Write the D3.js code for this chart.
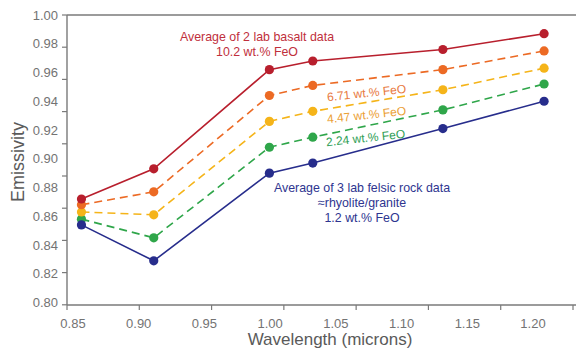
<!DOCTYPE html>
<html>
<head>
<meta charset="utf-8">
<script src="https://cdn.jsdelivr.net/npm/d3@7"></script>
<style>
  body { margin: 0; background: #fff; }
  svg text { font-family: "Liberation Sans", Arial, sans-serif; }
</style>
</head>
<body>
<div class="chart"></div>
<script>
  // wavelengths (microns) and emissivity per FeO content
  var wavelengths = [0.86, 0.91, 0.99, 1.02, 1.11, 1.18];
  var basalt = [0.872, 0.893, 0.962, 0.968, 0.976, 0.987];   // 10.2 wt.% FeO
  var feo671 = [0.868, 0.877, 0.944, 0.951, 0.962, 0.975];
  var feo447 = [0.863, 0.861, 0.926, 0.933, 0.948, 0.963];
  var feo224 = [0.858, 0.845, 0.908, 0.915, 0.934, 0.952];
  var felsic = [0.854, 0.829, 0.890, 0.897, 0.921, 0.940];   // 1.2 wt.% FeO

  var xTickValues = [0.85, 0.90, 0.95, 1.00, 1.05, 1.10, 1.15, 1.20];
  var yTickValues = [0.80, 0.82, 0.84, 0.86, 0.88, 0.90, 0.92, 0.94, 0.96, 0.98, 1.00];

  function emissivityChart() {
    var width = 576, height = 349;
    var svg = d3.select(".chart").append("svg")
      .attr("width", width)
      .attr("height", height);

    var plotLeft = 67, plotTop = 15, plotBottom = 305;

    // scale for the data and tick marks
    var x = d3.scaleLinear().domain([0.85, 1.20]).range([plotLeft, 573]);
    // tick labels in the original sit on a slightly compressed scale
    var xLabel = d3.scaleLinear().domain([0.85, 1.20]).range([73, 533]);

    var y = d3.scaleLinear().domain([0.80, 1.00]).range([302.5, plotTop]);
    var yTick = d3.scaleLinear().domain([0.80, 1.00]).range([337, plotTop]);

    var axisColor = "#7a7a7a";
    var labelColor = "#737373";

    // frame
    svg.append("line").attr("x1", plotLeft).attr("x2", width).attr("y1", plotTop).attr("y2", plotTop)
      .attr("stroke", axisColor).attr("stroke-width", 1.6);
    svg.append("line").attr("x1", plotLeft).attr("x2", plotLeft).attr("y1", plotTop).attr("y2", plotBottom)
      .attr("stroke", axisColor).attr("stroke-width", 1.4);
    svg.append("line").attr("x1", plotLeft).attr("x2", width).attr("y1", plotBottom).attr("y2", plotBottom)
      .attr("stroke", axisColor).attr("stroke-width", 1.4);

    // x ticks
    svg.append("g").selectAll("line")
      .data(xTickValues)
      .enter().append("line")
      .attr("x1", function(d) { return x(d); })
      .attr("x2", function(d) { return x(d); })
      .attr("y1", plotBottom)
      .attr("y2", plotBottom + 5)
      .attr("stroke", axisColor)
      .attr("stroke-width", 1.2);

    svg.append("g").selectAll("text")
      .data(xTickValues)
      .enter().append("text")
      .attr("x", function(d) { return xLabel(d); })
      .attr("y", 328)
      .attr("text-anchor", "middle")
      .attr("fill", labelColor)
      .style("font-size", "13px")
      .text(function(d) { return d3.format(".2f")(d); });

    // y ticks
    svg.append("g").selectAll("line")
      .data(yTickValues.slice(1))
      .enter().append("line")
      .attr("x1", plotLeft - 5)
      .attr("x2", plotLeft)
      .attr("y1", function(d) { return yTick(d); })
      .attr("y2", function(d) { return yTick(d); })
      .attr("stroke", axisColor)
      .attr("stroke-width", 1.2);

    svg.append("g").selectAll("text")
      .data(yTickValues)
      .enter().append("text")
      .attr("x", 58)
      .attr("y", function(d) { return y(d); })
      .attr("dy", "0.35em")
      .attr("text-anchor", "end")
      .attr("fill", labelColor)
      .style("font-size", "13px")
      .text(function(d) { return d3.format(".2f")(d); });

    // axis titles
    svg.append("text")
      .attr("transform", "translate(24,162) rotate(-90)")
      .attr("text-anchor", "middle")
      .attr("fill", "#5a5a5a")
      .style("font-size", "18px")
      .text("Emissivity");

    svg.append("text")
      .attr("x", 330)
      .attr("y", 345)
      .attr("text-anchor", "middle")
      .attr("fill", "#5a5a5a")
      .style("font-size", "17px")
      .text("Wavelength (microns)");

    var series = [
      { values: feo224, color: "#2fa64a", dash: "8,5" },
      { values: feo447, color: "#f5b419", dash: "8,5" },
      { values: feo671, color: "#ec6a24", dash: "8,5" },
      { values: felsic, color: "#272d8c", dash: null },
      { values: basalt, color: "#b81f2d", dash: null }
    ];

    var line = d3.line()
      .x(function(d) { return x(d[0]); })
      .y(function(d) { return y(d[1]); });

    series.forEach(function(s) {
      var pts = wavelengths.map(function(w, i) { return [w, s.values[i]]; });
      svg.append("path")
        .datum(pts)
        .attr("d", line)
        .attr("fill", "none")
        .attr("stroke", s.color)
        .attr("stroke-width", 1.6)
        .attr("stroke-dasharray", s.dash);
      svg.append("g").selectAll("circle")
        .data(pts)
        .enter().append("circle")
        .attr("cx", function(d) { return x(d[0]); })
        .attr("cy", function(d) { return y(d[1]); })
        .attr("r", 4.6)
        .attr("fill", s.color);
    });

    // annotations
    function note(tx, ty, lines, color, size, rot) {
      var t = svg.append("text")
        .attr("transform", "translate(" + tx + "," + ty + ")" + (rot ? " rotate(" + rot + ")" : ""))
        .attr("fill", color)
        .attr("text-anchor", "middle")
        .style("font-size", size + "px");
      lines.forEach(function(l, i) {
        t.append("tspan").attr("x", 0).attr("dy", i === 0 ? 0 : 15).text(l);
      });
    }

    note(257, 41, ["Average of 2 lab basalt data", "10.2 wt.% FeO"], "#bf2f3c", 12.4);
    note(367, 97, ["6.71 wt.% FeO"], "#e8793e", 12, -6);
    note(367, 119, ["4.47 wt.% FeO"], "#eba034", 12, -6);
    note(366, 142, ["2.24 wt.% FeO"], "#2f9e55", 12, -6);
    note(362, 192, ["Average of 3 lab felsic rock data", "\u2248rhyolite/granite", "1.2 wt.% FeO"], "#2e3590", 12.4);
  }

  emissivityChart();
</script>
</body>
</html>
